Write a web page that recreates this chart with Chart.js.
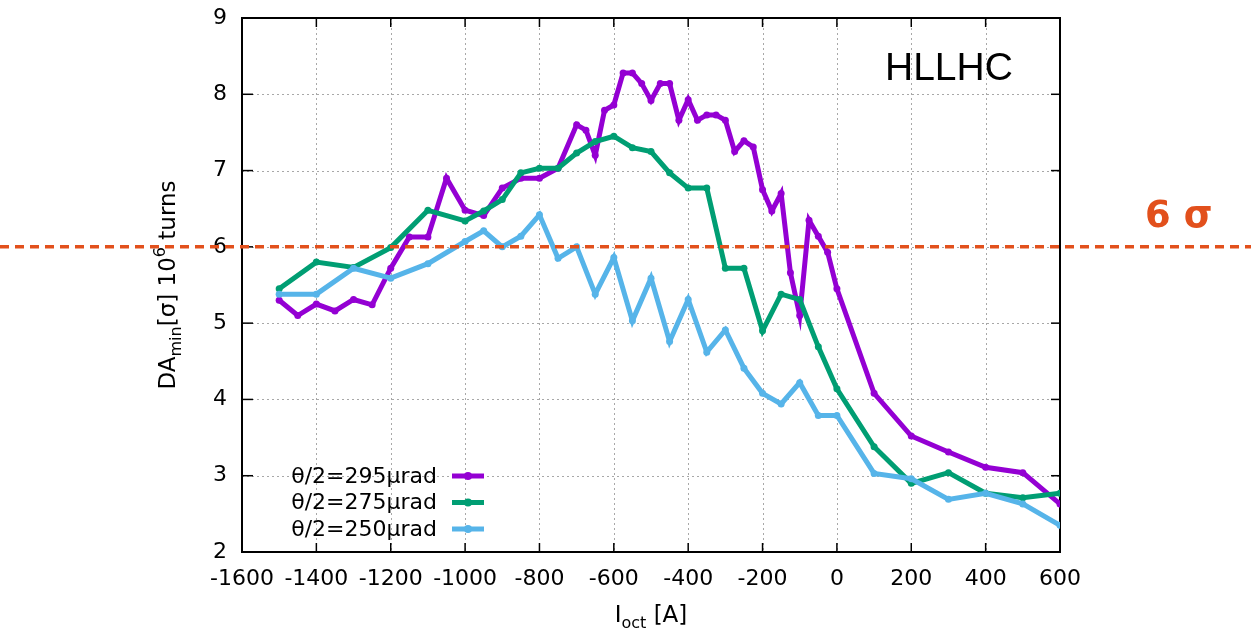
<!DOCTYPE html>
<html>
<head>
<meta charset="utf-8">
<title>DA vs octupole current</title>
<script src="https://cdn.jsdelivr.net/npm/chart.js@4/dist/chart.umd.min.js"></script>
<style>
  body { margin: 0; background: #fff; }
  #daChart { display: block; }
</style>
</head>
<body>
<canvas id="daChart" width="1251" height="633"></canvas>
<script>
// octupole current [A] and DA_min [sigma] per crossing angle
const current295 = [-1500, -1450, -1400, -1350, -1300, -1250, -1200, -1150, -1100, -1050, -1000, -950, -900, -850, -800, -750, -700,
    -675, -650, -625, -600, -575, -550, -525, -500, -475, -450, -425, -400, -375, -350, -325, -300, -275, -250, -225, -200,
    -175, -150, -125, -100, -75, -50, -25, 0, 100, 200, 300, 400, 500, 600];
const da295 = [5.30, 5.10, 5.25, 5.16, 5.31, 5.24, 5.72, 6.13, 6.13, 6.90, 6.48, 6.41, 6.77, 6.90, 6.90, 7.03, 7.60,
    7.53, 7.20, 7.79, 7.86, 8.28, 8.28, 8.14, 7.92, 8.14, 8.14, 7.66, 7.93, 7.66, 7.73, 7.73, 7.66, 7.25, 7.39, 7.31, 6.75,
    6.47, 6.70, 5.66, 5.10, 6.35, 6.14, 5.93, 5.45, 4.08, 3.52, 3.31, 3.11, 3.04, 2.63];

const current275 = [-1500, -1400, -1300, -1200, -1100, -1000, -950, -900, -850, -800, -750, -700, -650, -600, -550, -500,
    -450, -400, -350, -300, -250, -200, -150, -100, -50, 0, 100, 200, 300, 400, 500, 600];
const da275 = [5.45, 5.80, 5.73, 5.99, 6.48, 6.34, 6.47, 6.62, 6.97, 7.03, 7.03, 7.23, 7.38, 7.45, 7.30, 7.25,
    6.97, 6.77, 6.77, 5.72, 5.72, 4.90, 5.38, 5.31, 4.69, 4.14, 3.38, 2.90, 3.04, 2.77, 2.71, 2.77];

const current250 = [-1500, -1400, -1300, -1200, -1100, -1000, -950, -900, -850, -800, -750, -700, -650, -600, -550, -500,
    -450, -400, -350, -300, -250, -200, -150, -100, -50, 0, 100, 200, 300, 400, 500, 600];
const da250 = [5.38, 5.38, 5.72, 5.59, 5.78, 6.07, 6.21, 6.00, 6.14, 6.42, 5.85, 6.00, 5.38, 5.86, 5.03, 5.59,
    4.76, 5.31, 4.62, 4.91, 4.41, 4.08, 3.94, 4.22, 3.79, 3.79, 3.03, 2.96, 2.69, 2.77, 2.63, 2.35];

const seriesLabels = ['θ/2=295µrad', 'θ/2=275µrad', 'θ/2=250µrad'];
const xTickValues = [-1600, -1400, -1200, -1000, -800, -600, -400, -200, 0, 200, 400, 600];
const yTickValues = [2, 3, 4, 5, 6, 7, 8, 9];
const thresholdSigma = 6;
const thresholdLabel = '6 σ';
const machineLabel = 'HLLHC';

const colors = ['#9400d3', '#009e73', '#56b4e9'];
const orange = '#e2501c';
const tickFont = { family: 'DejaVu Sans', size: 22 };

function toPoints(xs, ys) {
    return xs.map((x, i) => ({ x: x, y: ys[i] }));
}

function makeDataset(label, xs, ys, color, order) {
    return {
        label: label,
        data: toPoints(xs, ys),
        borderColor: color,
        backgroundColor: color,
        borderWidth: 5,
        pointRadius: 3.5,
        pointHoverRadius: 3.5,
        pointBorderWidth: 0,
        tension: 0,
        fill: false,
        order: order
    };
}

function drawLine(ctx, x1, y1, x2, y2) {
    ctx.beginPath();
    ctx.moveTo(x1, y1);
    ctx.lineTo(x2, y2);
    ctx.stroke();
}

// draws a row of text pieces, small ones shifted as sub/superscripts
function drawPieces(ctx, pieces, cx, baseY) {
    let total = 0;
    pieces.forEach(p => {
        ctx.font = p.size + 'px "DejaVu Sans"';
        p.w = ctx.measureText(p.text).width;
        total += p.w;
    });
    let px = cx - total / 2;
    ctx.textAlign = 'left';
    ctx.textBaseline = 'alphabetic';
    pieces.forEach(p => {
        ctx.font = p.size + 'px "DejaVu Sans"';
        ctx.fillText(p.text, px, baseY + (p.shift || 0));
        px += p.w;
    });
}

const decorPlugin = {
    id: 'decor',
    beforeDatasetsDraw(chart) {
        const { ctx, chartArea: a, scales: { x, y } } = chart;
        ctx.save();
        // dotted grid
        ctx.strokeStyle = '#a8a8a8';
        ctx.lineWidth = 1;
        ctx.setLineDash([2, 3]);
        xTickValues.slice(1, -1).forEach(v => {
            const px = Math.round(x.getPixelForValue(v)) + 0.5;
            drawLine(ctx, px, a.top, px, a.bottom);
        });
        yTickValues.slice(1, -1).forEach(v => {
            const py = Math.round(y.getPixelForValue(v)) + 0.5;
            drawLine(ctx, a.left, py, a.right, py);
        });
        ctx.setLineDash([]);
        // border box
        ctx.strokeStyle = '#000';
        ctx.lineWidth = 2;
        ctx.strokeRect(a.left, a.top, a.right - a.left, a.bottom - a.top);
        // inward ticks on all four sides
        ctx.lineWidth = 1.5;
        xTickValues.forEach(v => {
            const px = x.getPixelForValue(v);
            drawLine(ctx, px, a.bottom, px, a.bottom - 9);
            drawLine(ctx, px, a.top, px, a.top + 9);
        });
        yTickValues.forEach(v => {
            const py = y.getPixelForValue(v);
            drawLine(ctx, a.left, py, a.left + 11, py);
            drawLine(ctx, a.right, py, a.right - 9, py);
        });
        ctx.restore();
    },
    afterDatasetsDraw(chart) {
        const { ctx, chartArea: a, scales: { y } } = chart;
        ctx.save();

        // 6 sigma threshold across the whole picture
        const ty = y.getPixelForValue(thresholdSigma);
        ctx.strokeStyle = orange;
        ctx.lineWidth = 3.5;
        ctx.setLineDash([9, 6]);
        drawLine(ctx, 0, ty, chart.width, ty);
        ctx.setLineDash([]);

        ctx.fillStyle = orange;
        ctx.font = 'bold 37px "DejaVu Sans"';
        ctx.textAlign = 'left';
        ctx.textBaseline = 'alphabetic';
        ctx.fillText(thresholdLabel, a.right + 85, ty - 20);

        ctx.fillStyle = '#000';
        ctx.font = '39px "Liberation Sans"';
        ctx.fillText(machineLabel, a.right - 175, a.top + 62);

        // legend: right-aligned text, line sample with a point
        ctx.font = '22px "DejaVu Sans"';
        ctx.textAlign = 'right';
        ctx.textBaseline = 'middle';
        chart.data.datasets.forEach((ds, i) => {
            const ry = a.bottom - 76 + i * 26.5;
            ctx.fillStyle = '#000';
            ctx.fillText(ds.label, a.left + 195, ry + 1);
            ctx.strokeStyle = ds.borderColor;
            ctx.lineWidth = 5;
            drawLine(ctx, a.left + 210, ry, a.left + 242, ry);
            ctx.fillStyle = ds.borderColor;
            ctx.beginPath();
            ctx.arc(a.left + 226, ry, 4, 0, Math.PI * 2);
            ctx.fill();
        });

        // axis titles
        ctx.fillStyle = '#000';
        drawPieces(ctx, [
            { text: 'I', size: 23 },
            { text: 'oct', size: 16, shift: 6 },
            { text: ' [A]', size: 23 }
        ], (a.left + a.right) / 2, 622);

        ctx.save();
        ctx.translate(175, (a.top + a.bottom) / 2);
        ctx.rotate(-Math.PI / 2);
        drawPieces(ctx, [
            { text: 'DA', size: 23 },
            { text: 'min', size: 16, shift: 6 },
            { text: '[σ] 10', size: 23 },
            { text: '6', size: 16, shift: -10 },
            { text: ' turns', size: 23 }
        ], 0, 0);
        ctx.restore();

        ctx.restore();
    }
};

const chartCanvas = document.getElementById('daChart');
new Chart(chartCanvas.getContext('2d'), {
    type: 'line',
    data: {
        datasets: [
            makeDataset(seriesLabels[0], current295, da295, colors[0], 2),
            makeDataset(seriesLabels[1], current275, da275, colors[1], 1),
            makeDataset(seriesLabels[2], current250, da250, colors[2], 0)
        ]
    },
    options: {
        responsive: false,
        animation: false,
        devicePixelRatio: 1,
        layout: { padding: { left: 0, right: 191, top: 18, bottom: 0 } },
        plugins: {
            legend: { display: false },
            tooltip: { enabled: false }
        },
        scales: {
            x: {
                type: 'linear',
                min: -1600,
                max: 600,
                afterBuildTicks: s => { s.ticks = xTickValues.map(v => ({ value: v })); },
                afterFit: s => { s.height = 81; s.paddingLeft = 0; s.paddingRight = 0; },
                ticks: { font: tickFont, color: '#000', padding: 14, maxRotation: 0, autoSkip: false,
                    callback: v => String(v) },
                grid: { display: false, drawTicks: false },
                border: { display: false }
            },
            y: {
                type: 'linear',
                min: 2,
                max: 9,
                afterBuildTicks: s => { s.ticks = yTickValues.map(v => ({ value: v })); },
                afterFit: s => { s.width = 242; s.paddingTop = 0; s.paddingBottom = 0; },
                ticks: { font: tickFont, color: '#000', padding: 15, callback: v => String(v) },
                grid: { display: false, drawTicks: false },
                border: { display: false }
            }
        }
    },
    plugins: [decorPlugin]
});
</script>
</body>
</html>
